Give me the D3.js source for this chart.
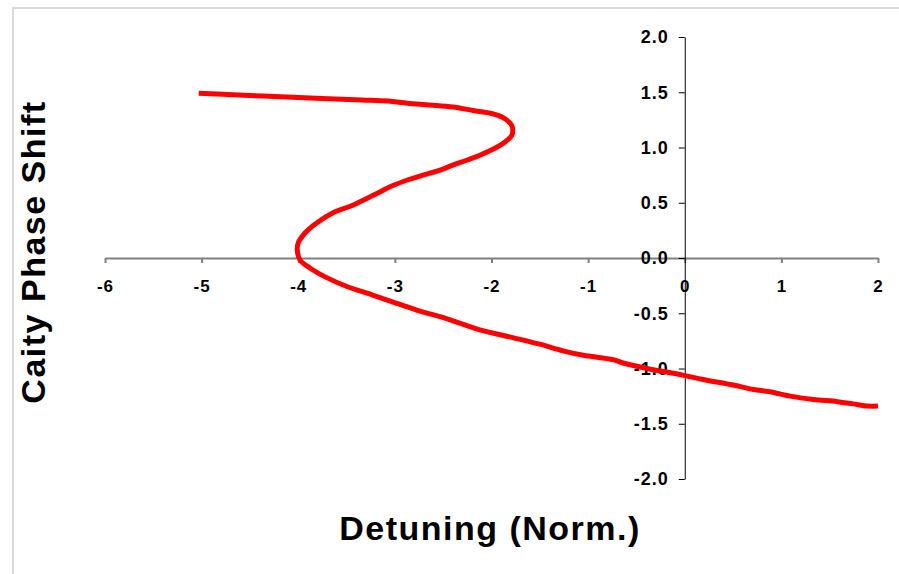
<!DOCTYPE html>
<html>
<head>
<meta charset="utf-8">
<script src="https://cdn.jsdelivr.net/npm/d3@7"></script>
<style>
  html, body { margin: 0; padding: 0; background: #fff; }
  svg { display: block; }
  text { font-family: "Liberation Sans", Arial, sans-serif; font-weight: bold; fill: #000; }
</style>
</head>
<body>
<script>
// ---- data ----
const detuning = [-5.03, -4.62, -4.12, -3.69, -3.34, -3.07, -2.87, -2.64, -2.40, -2.19, -2.01, -1.88, -1.79, -1.78, -1.79,
  -1.86, -1.96, -2.12, -2.25, -2.40, -2.53, -2.71, -2.87, -3.05, -3.15, -3.23, -3.43, -3.64, -3.81, -3.93, -4.00, -4.01,
  -3.98, -3.88, -3.70, -3.49, -3.23, -2.98, -2.74, -2.46, -2.12, -1.78, -1.50, -1.26, -1.05, -0.74, -0.64, -0.39, -0.02,
  0.19, 0.50, 0.71, 0.88, 1.09, 1.33, 1.58, 1.74, 1.89, 2.00];
const phaseShift = [1.49, 1.475, 1.457, 1.442, 1.43, 1.42, 1.40, 1.385, 1.367, 1.335, 1.31, 1.27, 1.20, 1.16, 1.11,
  1.05, 0.995, 0.93, 0.887, 0.84, 0.796, 0.75, 0.706, 0.645, 0.60, 0.565, 0.48, 0.41, 0.317, 0.226, 0.136, 0.07,
  -0.02, -0.09, -0.18, -0.26, -0.335, -0.41, -0.48, -0.55, -0.65, -0.72, -0.78, -0.84, -0.88, -0.92, -0.95, -1.00, -1.06,
  -1.10, -1.15, -1.19, -1.21, -1.25, -1.28, -1.30, -1.32, -1.34, -1.34];
const xTicks = [-6, -5, -4, -3, -2, -1, 0, 1, 2];
const yTicks = [2.0, 1.5, 1.0, 0.5, 0.0, -0.5, -1.0, -1.5, -2.0];
const xTitle = "Detuning (Norm.)";
const yTitle = "Caity Phase Shift";

// ---- layout ----
const W = 899, H = 574;
const svg = d3.select("body").append("svg").attr("width", W).attr("height", H);

// outer chart border (only top/left visible in the frame)
svg.append("rect").attr("x", 13).attr("y", 8).attr("width", 1000).attr("height", 1000)
  .attr("fill", "none").attr("stroke", "#d9d9d9").attr("stroke-width", 2);

const x = d3.scaleLinear().domain([-6, 2]).range([105, 878]);
const y = d3.scaleLinear().domain([-2, 2]).range([479, 37]);

const hy = s => s.replace(/\u2212/g, "-");

// x axis (gray line crossing at y=0), ticks downwards
const gx = svg.append("g").attr("transform", `translate(0,${y(0)})`)
  .call(d3.axisBottom(x).tickValues(xTicks).tickSize(5).tickPadding(17)
    .tickFormat(d => hy(d3.format("d")(d))).tickSizeOuter(0));
gx.select(".domain").attr("stroke", "#808080").attr("stroke-width", 2);
gx.selectAll(".tick line").attr("stroke", "#808080").attr("stroke-width", 2);
gx.selectAll(".tick text").style("font-size", "17px").style("letter-spacing", "1px").attr("font-family", null);

// y axis (black line crossing at x=0), ticks leftwards
const gy = svg.append("g").attr("transform", `translate(${x(0)},0)`)
  .call(d3.axisLeft(y).tickValues(yTicks).tickSize(6).tickPadding(10)
    .tickFormat(d => hy(d3.format(".1f")(d))).tickSizeOuter(0));
gy.select(".domain").attr("stroke", "#000").attr("stroke-width", 1);
gy.selectAll(".tick line").attr("stroke", "#000").attr("stroke-width", 1);
gy.selectAll(".tick text").style("font-size", "18px").style("letter-spacing", "1px").attr("font-family", null);

// data line
const pts = detuning.map((d, i) => [d, phaseShift[i]]);
svg.append("path").datum(pts)
  .attr("fill", "none").attr("stroke", "#ff0000").attr("stroke-width", 5)
  .attr("stroke-linejoin", "round")
  .attr("d", d3.line().curve(d3.curveCatmullRom.alpha(0.5)).x(d => x(d[0])).y(d => y(d[1])));

// titles
svg.append("text").attr("x", 490).attr("y", 540).attr("text-anchor", "middle")
  .style("font-size", "34px").style("letter-spacing", "1.5px").text(xTitle);
svg.append("text").attr("transform", `translate(45,${252}) rotate(-90)`).attr("text-anchor", "middle")
  .style("font-size", "34px").style("letter-spacing", "1.5px").text(yTitle);
</script>
</body>
</html>
